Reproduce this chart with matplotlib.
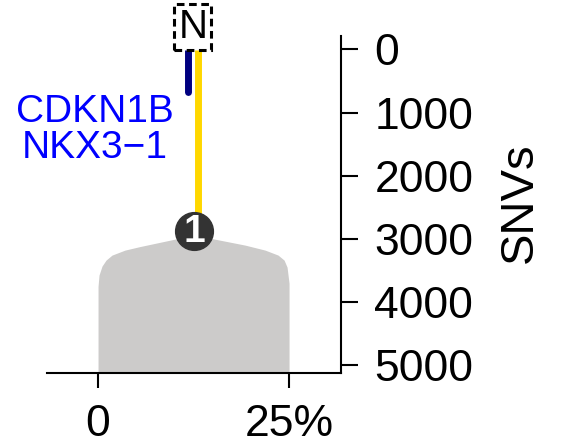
import matplotlib
matplotlib.use("Agg")
import matplotlib.pyplot as plt
import numpy as np

plt.rcParams["font.family"] = ["Liberation Sans", "DejaVu Sans"]

# gray density block (cancer cell fraction %, SNVs from top)
dens_x = [0.0, 0.13, 0.52, 1.05, 1.83, 3.53, 5.5, 12.57, 19.24, 21.86, 23.56, 24.35, 24.74, 25.0]
dens_top = [3750, 3571, 3429, 3334, 3255, 3176, 3120, 2938, 3097, 3176, 3255, 3334, 3445, 3700]

# tree branches: (x position %, start SNVs, end SNVs, colour)
branch_x = [11.8, 13.1]
branch_y0 = [-60, -60]
branch_y1 = [676, 2870]
branch_col = ["#000080", "#FFD700"]

node_x = 12.57
node_y = 2877
root_x = 12.4
root_y = -353

genes = ["CDKN1B", "NKX3\u22121"]
gene_y = [993, 1562]

yticks = [0, 1000, 2000, 3000, 4000, 5000]
xticks = [0, 25]
xticklabels = ["0", "25%"]

fig = plt.figure(figsize=(5.62, 4.45), dpi=100)
ax = fig.add_axes([47 / 562, (445 - 373) / 445, 294 / 562, 373 / 445])

ax.fill_between(dens_x, dens_top, 5120, color="#CCCBCA", lw=0, zorder=1)

for x, y0, y1, c in zip(branch_x, branch_y0, branch_y1, branch_col):
    cap = "round" if c == "#000080" else "butt"
    ax.plot([x, x], [y0, y1], color=c, lw=5, solid_capstyle=cap, zorder=2)

ax.scatter([node_x], [node_y], s=740, color="#333333", zorder=3, clip_on=False)
ax.text(node_x, node_y + 20, "1", color="white", fontsize=28, ha="center", va="center",
        zorder=4, fontweight="bold")

ax.text(root_x, root_y, "N", color="black", fontsize=29, ha="center", va="center", zorder=4,
        bbox=dict(boxstyle="square,pad=0.1", facecolor="white", edgecolor="black",
                  lw=2.2, ls=(0, (2.5, 1.5))))

for g, gy in zip(genes, gene_y):
    ax.text(-0.4, gy, g, color="#0000FF", fontsize=28, ha="center", va="center", clip_on=False)

ax.set_xlim(-6.68, 31.8)
ax.set_ylim(5120, -780)

ax.spines["left"].set_visible(False)
ax.spines["top"].set_visible(False)
ax.spines["right"].set_bounds(-210, 5120)
ax.spines["right"].set_linewidth(1.5)
ax.spines["bottom"].set_linewidth(1.5)

ax.yaxis.tick_right()
ax.set_yticks(yticks)
ax.set_yticklabels([str(v) for v in yticks])
ax.set_xticks(xticks)
ax.set_xticklabels(xticklabels)
ax.tick_params(axis="y", length=12, width=1.5, pad=12, labelsize=32)
ax.tick_params(axis="x", length=11, width=1.5, pad=11, labelsize=32)

fig.text(520 / 562, 1 - 203 / 445, "SNVs", rotation=90, ha="center", va="center", fontsize=34)

fig.savefig("out.png", dpi=100, facecolor="white")
